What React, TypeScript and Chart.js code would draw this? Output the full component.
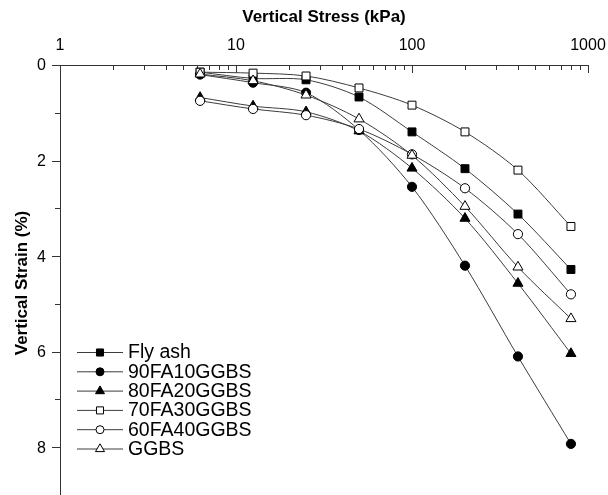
import React, { useEffect, useRef } from 'react';
import { Chart, registerables } from 'chart.js';
import { drawPoint } from 'chart.js/helpers';

Chart.register(...registerables);

// ---- data ----
const stress = [6.25, 12.5, 25, 50, 100, 200, 400, 800];
const flyAsh = [0.15, 0.28, 0.31, 0.67, 1.4, 2.17, 3.12, 4.28];
const fa90 = [0.2, 0.37, 0.58, 1.36, 2.55, 4.2, 6.1, 7.93];
const fa80 = [0.68, 0.86, 0.98, 1.38, 2.16, 3.21, 4.57, 6.04];
const fa70 = [0.15, 0.17, 0.23, 0.48, 0.84, 1.4, 2.2, 3.38];
const fa60 = [0.75, 0.92, 1.05, 1.34, 1.87, 2.58, 3.54, 4.8];
const ggbs = [0.19, 0.33, 0.63, 1.13, 1.89, 2.96, 4.23, 5.31];

const seriesNames = ['Fly ash', '90FA10GGBS', '80FA20GGBS', '70FA30GGBS', '60FA40GGBS', 'GGBS'];
const seriesValues = [flyAsh, fa90, fa80, fa70, fa60, ggbs];
const seriesStyles = ['rect', 'circle', 'triangle', 'rect', 'circle', 'triangle'];
const seriesFilled = [true, true, true, false, false, false];

const xLabelValues = [1, 10, 100, 1000];
const yLabelValues = [0, 2, 4, 6, 8];

const xTitle = 'Vertical Stress (kPa)';
const yTitle = 'Vertical Strain (%)';

const FONT = 'Arial, "Liberation Sans", sans-serif';
const LINE = '#3c3c3c';

function radiusFor(style: string) {
  if (style === 'circle') return 4.6;
  if (style === 'rect') return 5.6;
  return 5.8;
}

const axesPlugin = {
  id: 'customAxes',
  beforeDatasetsDraw(chart: any) {
    const ctx = chart.ctx;
    const xs = chart.scales.x;
    const ys = chart.scales.y;
    const { left, right, top, bottom } = chart.chartArea;
    ctx.save();
    ctx.strokeStyle = '#333';
    ctx.lineWidth = 1;
    ctx.beginPath();
    ctx.moveTo(left, top + 0.5);
    ctx.lineTo(right + 1, top + 0.5);
    ctx.moveTo(left + 0.5, top);
    ctx.lineTo(left + 0.5, bottom);
    // x ticks (pointing down)
    for (let e = 0; e <= 3; e++) {
      for (let m = 1; m <= 9; m++) {
        const v = m * Math.pow(10, e);
        if (v > 1000) break;
        const px = Math.round(xs.getPixelForValue(v)) + 0.5;
        const len = m === 1 ? 8 : 5;
        ctx.moveTo(px, top);
        ctx.lineTo(px, top + len);
      }
    }
    // y ticks (pointing left)
    for (let v = 0; v <= 9; v++) {
      const py = Math.round(ys.getPixelForValue(v)) + 0.5;
      const len = v % 2 === 0 ? 8 : 5;
      ctx.moveTo(left - len, py);
      ctx.lineTo(left, py);
    }
    ctx.stroke();

    // tick labels
    ctx.fillStyle = '#000';
    ctx.font = `16px ${FONT}`;
    ctx.textAlign = 'center';
    ctx.textBaseline = 'middle';
    xLabelValues.forEach((v) => {
      ctx.fillText(String(v), xs.getPixelForValue(v), 46);
    });
    ctx.textAlign = 'right';
    yLabelValues.forEach((v) => {
      ctx.fillText(String(v), left - 14, ys.getPixelForValue(v) + 1);
    });

    // titles
    ctx.font = `bold 17px ${FONT}`;
    ctx.textAlign = 'center';
    ctx.textBaseline = 'middle';
    ctx.fillText(xTitle, (left + right) / 2, 17);
    ctx.translate(22, 283);
    ctx.rotate(-Math.PI / 2);
    ctx.fillText(yTitle, 0, 0);
    ctx.restore();
  },
  afterDatasetsDraw(chart: any) {
    const ctx = chart.ctx;
    ctx.save();
    const rowY0 = 352;
    const rowStep = 19.3;
    seriesNames.forEach((name, i) => {
      const y = rowY0 + rowStep * i;
      ctx.strokeStyle = LINE;
      ctx.lineWidth = 1;
      ctx.beginPath();
      ctx.moveTo(77, y + 0.5);
      ctx.lineTo(123, y + 0.5);
      ctx.stroke();
      ctx.fillStyle = seriesFilled[i] ? '#000' : '#fff';
      ctx.strokeStyle = '#000';
      drawPoint(ctx, { pointStyle: seriesStyles[i] as any, radius: radiusFor(seriesStyles[i]) - 0.6, rotation: 0, borderWidth: 1 }, 100, y + 0.5);
      ctx.fillStyle = '#000';
      ctx.font = `19.5px ${FONT}`;
      ctx.textAlign = 'left';
      ctx.textBaseline = 'middle';
      ctx.fillText(name, 128, y + 1);
    });
    ctx.restore();
  },
};

export default function App() {
  const ref = useRef<HTMLCanvasElement>(null);
  useEffect(() => {
    document.body.style.margin = '0';
    const canvas = ref.current;
    if (!canvas) return;
    const datasets = seriesNames.map((name, i) => ({
      label: name,
      data: stress.map((x, j) => ({ x, y: seriesValues[i][j] })),
      borderColor: LINE,
      borderWidth: 1,
      tension: 0.3,
      pointStyle: seriesStyles[i] as any,
      pointRadius: radiusFor(seriesStyles[i]),
      pointBackgroundColor: seriesFilled[i] ? '#000' : '#fff',
      pointBorderColor: '#000',
      pointBorderWidth: 1,
      fill: false,
      order: seriesNames.length - i,
      clip: false as any,
    }));
    const chart = new Chart(canvas, {
      type: 'line',
      data: { datasets },
      options: {
        animation: false,
        responsive: false,
        devicePixelRatio: 1,
        layout: { autoPadding: false, padding: { left: 0, right: 20, top: 0, bottom: 0 } },
        plugins: { legend: { display: false }, tooltip: { enabled: false } },
        scales: {
          x: {
            type: 'logarithmic',
            position: 'top',
            min: 1,
            max: 1000,
            grid: { display: false },
            border: { display: false },
            ticks: { display: false },
            afterFit: (s: any) => { s.height = 65; },
          },
          y: {
            type: 'linear',
            reverse: true,
            min: 0,
            max: 9,
            grid: { display: false },
            border: { display: false },
            ticks: { display: false, stepSize: 1 },
            afterFit: (s: any) => { s.width = 60; },
          },
        },
      },
      plugins: [axesPlugin],
    });
    return () => chart.destroy();
  }, []);
  return (
    <div style={{ width: 608, height: 495, position: 'relative' }}>
      <canvas ref={ref} width={608} height={495} style={{ display: 'block' }} />
    </div>
  );
}
